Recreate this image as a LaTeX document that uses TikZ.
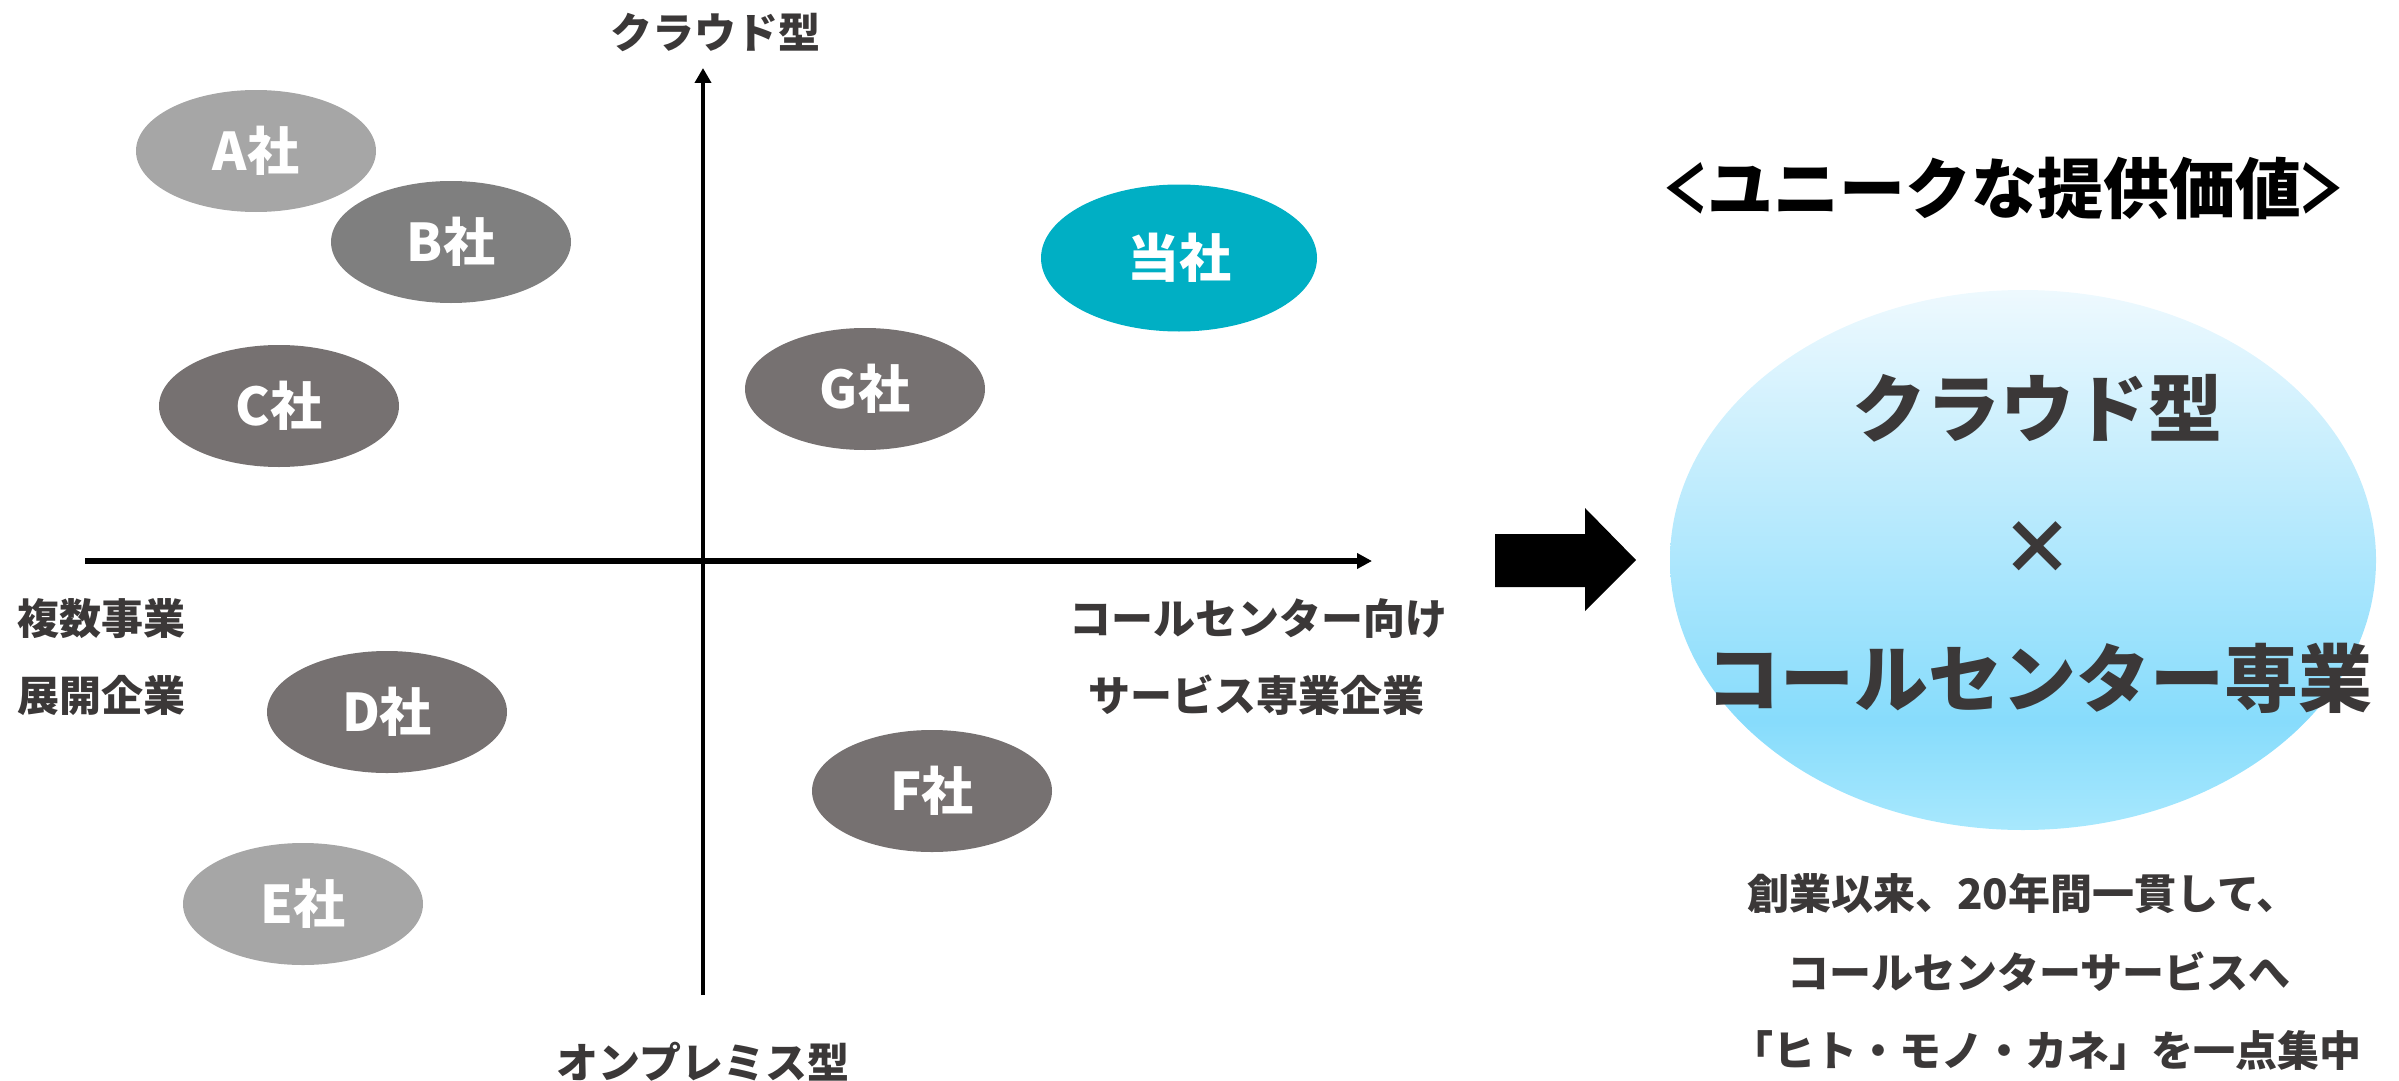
\documentclass[tikz,border=0pt]{standalone}
\usepackage{fontspec}
\usepackage{graphicx}
\setmainfont{Noto Sans CJK JP}
\usetikzlibrary{arrows.meta,shapes.geometric}
\definecolor{txt}{HTML}{3B3838}
\definecolor{lgray}{HTML}{A6A6A6}
\definecolor{mgray}{HTML}{7F7F7F}
\definecolor{dgray}{HTML}{767171}
\definecolor{teal}{HTML}{00AFC4}
\definecolor{gtop}{HTML}{EEF9FE}
\definecolor{gmid}{HTML}{87DCFC}
\definecolor{gbot}{HTML}{A8E8FD}
\pgfdeclareverticalshading{bluegrad}{100bp}{color(0bp)=(gbot); color(25bp)=(gbot); color(35bp)=(gmid); color(75bp)=(gtop); color(100bp)=(gtop)}
\newcommand{\narrowbr}[1]{\makebox[42pt]{\scalebox{0.7}[1]{#1}}}
\tikzset{
  comp/.style={ellipse, minimum width=240pt, minimum height=122pt, inner sep=0pt,
    text=white, font=\fontsize{52}{60}\selectfont\bfseries},
  axlabel/.style={text=txt, font=\fontsize{42}{50}\selectfont\bfseries, inner sep=0pt},
  bigtxt/.style={text=txt, font=\fontsize{74}{84}\selectfont\bfseries, inner sep=0pt},
  smalltxt/.style={text=txt, font=\fontsize{42}{50}\selectfont\bfseries, inner sep=0pt},
  axis/.style={draw=black},
}
\begin{document}
\begin{tikzpicture}[x=1pt,y=-1pt]
\useasboundingbox (0,0) rectangle (2399,1081);
% axes
\coordinate (vb) at (703,995);
\coordinate (vt) at (703,68);
\coordinate (hl) at (85,561);
\coordinate (hr) at (1372,561);
\draw[axis, line width=4.5pt, -{Triangle[length=15pt,width=16pt]}] (vb) -- (vt);
\draw[axis, line width=6pt, -{Triangle[length=15pt,width=15pt]}] (hl) -- (hr);
% axis labels
\node[axlabel] (top) at (715,32) {クラウド型};
\node[axlabel] (bottom) at (703,1062) {オンプレミス型};
\node[axlabel, anchor=west] (l1) at (17,619) {複数事業};
\node[axlabel, anchor=west] (l2) at (17,695) {展開企業};
\node[axlabel] (r1) at (1258,619) {コールセンター向け};
\node[axlabel] (r2) at (1256,695) {サービス専業企業};
% companies
\node[comp, fill=lgray] (A) at (256,151) {A社};
\node[comp, fill=mgray] (B) at (451,242) {B社};
\node[comp, fill=dgray] (C) at (279,406) {C社};
\node[comp, fill=teal, minimum width=276pt, minimum height=147pt] (us) at (1179,258) {当社};
\node[comp, fill=dgray] (G) at (865,389) {G社};
\node[comp, fill=dgray] (D) at (387,712) {D社};
\node[comp, fill=lgray] (E) at (303,904) {E社};
\node[comp, fill=dgray] (F) at (932,791) {F社};
% block arrow
\fill[black] (1495,534) -- (1585,534) -- (1585,508) -- (1636,560) -- (1585,611) -- (1585,587) -- (1495,587) -- cycle;
% right side
\node[text=black, font=\fontsize{66}{76}\selectfont\bfseries, inner sep=0pt] (title) at (2004,188) {\narrowbr{＜}ユニークな提供価値\narrowbr{＞}};
\node[ellipse, minimum width=706pt, minimum height=540pt, inner sep=0pt, shading=bluegrad] (big) at (2023,560) {};
\node[bigtxt] (b1) at (2037,408) {クラウド型};
\node[bigtxt] (b2) at (2037,548) {×};
\node[bigtxt] (b3) at (2039,678) {コールセンター専業};
\node[smalltxt] (s1) at (2023,894) {創業以来、20年間一貫して、};
\node[smalltxt] (s2) at (2039,972) {コールセンターサービスへ};
\node[smalltxt] (s3) at (2046,1050) {「ヒト・モノ・カネ」を一点集中};
\end{tikzpicture}
\end{document}
